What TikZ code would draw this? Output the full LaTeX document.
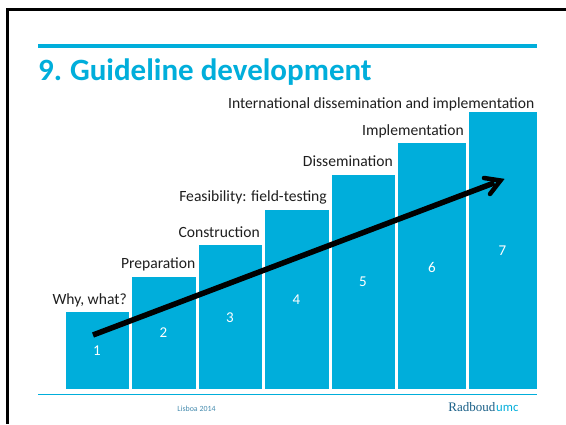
\documentclass[tikz,border=0pt]{standalone}
\usepackage{fontspec}
\usetikzlibrary{calc}
\setmainfont{Carlito}
\newfontfamily\logofont{Liberation Serif}
\definecolor{rblue}{RGB}{0,174,219}
\definecolor{footblue}{RGB}{70,140,175}
\definecolor{logoblue}{RGB}{25,95,135}
\tikzset{
  x=1pt,y=-1pt,
  bar/.style={fill=rblue,draw=none},
  steplabel/.style={font=\fontsize{15.6}{17}\selectfont,text=black!88,inner sep=0pt,anchor=base east},
  barnum/.style={font=\fontsize{15}{17}\selectfont,text=white,inner sep=0pt},
  rule/.style={fill=rblue,draw=none}
}
\begin{document}
\begin{tikzpicture}
\useasboundingbox (0,0) rectangle (566,424);
\fill[white] (0,0) rectangle (566,424);
\fill[black] (6,8) rectangle (566,11);
\fill[black] (6,8) rectangle (9,424);
\fill[rule] (38,44) rectangle (537,48);
\fill[rule] (38,394.2) rectangle (537,395.4);
\node[anchor=base west,inner sep=0pt,text=rblue,font=\bfseries\fontsize{31}{34}\selectfont] (title) at (38,80) {9.\kern-1.5pt{} Guideline development};
\path[bar] (65.5,312) rectangle (129,388.5);
\path[bar] (132,276.5) rectangle (195.5,388.5);
\path[bar] (198.5,245) rectangle (262,388.5);
\path[bar] (265,210) rectangle (328.5,388.5);
\path[bar] (331.5,174.5) rectangle (395,388.5);
\path[bar] (398,143) rectangle (466,388.5);
\path[bar] (469,112) rectangle (537,388.5);
\node[barnum] (n1) at (97,351) {1};
\node[barnum] (n2) at (163.5,333) {2};
\node[barnum] (n3) at (230,318) {3};
\node[barnum] (n4) at (296.5,300) {4};
\node[barnum] (n5) at (363,282) {5};
\node[barnum] (n6) at (432,267) {6};
\node[barnum] (n7) at (502.5,251) {7};
\node[steplabel] (l1) at (127,304) {Why, what?};
\node[steplabel] (l2) at (195.5,268) {Preparation};
\node[steplabel] (l3) at (260,237) {Construction};
\node[steplabel] (l4) at (327,201) {Feasibility: field-testing};
\node[steplabel] (l5) at (393,166) {Dissemination};
\node[steplabel] (l6) at (464,135) {Implementation};
\node[steplabel] (l7) at (534.5,108) {International dissemination and implementation};
\coordinate (as) at (93,335);
\coordinate (ae) at (500.5,180.5);
\coordinate (ab1) at (484,178);
\coordinate (ab2) at (490,194);
\draw[line width=5.5pt,black] (as) -- ($(as)!0.985!(ae)$);
\draw[line width=4.5pt,black,line cap=round,line join=miter] (ab1) -- (ae) -- (ab2);
\node[anchor=base,inner sep=0pt,text=footblue,font=\fontsize{7.9}{9}\selectfont] (foot) at (196.5,411) {Lisboa 2014};
\node[anchor=base east,inner sep=0pt,text=logoblue,font=\logofont\fontsize{13}{14}\selectfont] (logo) at (495.5,411) {Radboud};
\node[anchor=base west,inner sep=0pt,text=rblue,font=\fontsize{12.7}{14}\selectfont] (umc) at (496,411) {umc};
\end{tikzpicture}
\end{document}
